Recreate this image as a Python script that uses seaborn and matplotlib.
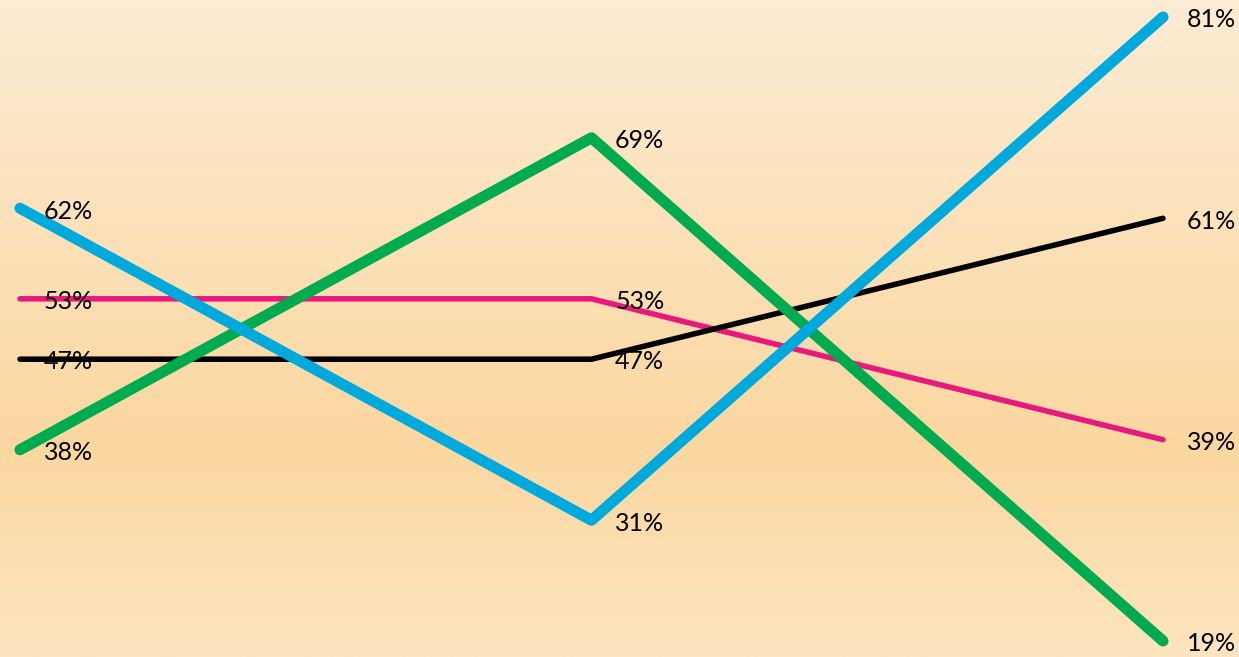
import numpy as np
import pandas as pd
import matplotlib
matplotlib.use("Agg")
import matplotlib.pyplot as plt
from matplotlib.colors import LinearSegmentedColormap
import seaborn as sns

# Data
positions = [0, 1, 2]
series_names = ["pink", "black", "green", "blue"]
pink_values = [53, 53, 39]
black_values = [47, 47, 61]
green_values = [38, 69, 19]
blue_values = [62, 31, 81]

colors = {"pink": "#E8197D", "black": "#000000", "green": "#00AA4F", "blue": "#00A9DC"}
widths = {"pink": 4.0, "black": 4.0, "green": 8.0, "blue": 8.0}
values = {"pink": pink_values, "black": black_values, "green": green_values, "blue": blue_values}

rows = []
for name in series_names:
    for x, v in zip(positions, values[name]):
        rows.append({"x": x, "value": v, "series": name})
df = pd.DataFrame(rows)

sns.set_theme(style="white")
plt.rcParams["font.family"] = ["Lato", "DejaVu Sans"]

fig = plt.figure(figsize=(12.39, 6.57), dpi=100)
ax = fig.add_axes([0, 0, 1, 1])

xmin, xmax = -0.035, 2.133
ymin, ymax = 17.41, 82.69

# gradient background
cmap = LinearSegmentedColormap.from_list(
    "bg",
    [(0.0, (253/255, 236/255, 212/255)),
     (0.68, (251/255, 215/255, 160/255)),
     (1.0, (253/255, 229/255, 192/255))])
grad = np.linspace(0, 1, 256).reshape(-1, 1)
ax.imshow(grad, cmap=cmap, aspect="auto", extent=[xmin, xmax, ymin, ymax],
          origin="upper", zorder=0)

for i, name in enumerate(series_names):
    sub = df[df["series"] == name]
    sns.lineplot(data=sub, x="x", y="value", ax=ax, color=colors[name],
                 linewidth=widths[name], solid_capstyle="round",
                 solid_joinstyle="round", zorder=2 + i, legend=False)

for name in series_names:
    for x, v in zip(positions, values[name]):
        ax.annotate(f"{v}%", (x, v), xytext=(17, -2), textcoords="offset points",
                    ha="left", va="center", fontsize=18, color="black", zorder=10)

ax.set_xlim(xmin, xmax)
ax.set_ylim(ymin, ymax)
ax.set_axis_off()
fig.savefig("out.png", dpi=100)
